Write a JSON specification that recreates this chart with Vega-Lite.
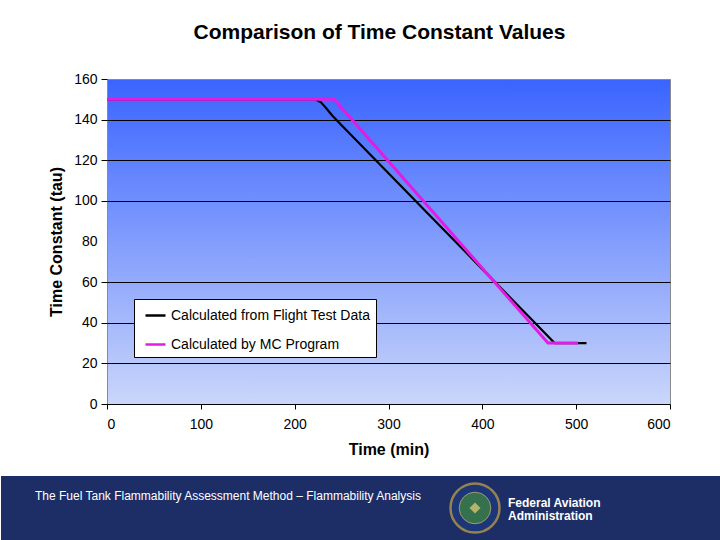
{
  "$schema": "https://vega.github.io/schema/vega-lite/v6.json",
  "padding": {"left": 0, "right": 0, "top": 21, "bottom": 0},
  "background": "white",
  "spacing": 18,
  "config": {
    "font": "Liberation Sans",
    "view": {"stroke": null}
  },
  "vconcat": [
    {
      "width": 563,
      "height": 325,
      "title": {"text": "Comparison of Time Constant Values", "fontSize": 21, "fontWeight": "bold", "font": "Liberation Sans", "color": "black", "offset": 29, "dx": -9},
      "view": {"stroke": "#8a8a8a", "strokeWidth": 1, "fill": {"expr": "{gradient: 'linear', x1: 0, y1: 0, x2: 0, y2: 1, stops: [{offset: 0, color: '#3A64FF'}, {offset: 1, color: '#CAD6FA'}]}"}},
      "resolve": {"axis": {"y": "independent"}},
      "layer": [
        {
          "data": {"values": [
            {"series": "Calculated from Flight Test Data", "time": 0, "tau": 150},
            {"series": "Calculated from Flight Test Data", "time": 222, "tau": 150},
            {"series": "Calculated from Flight Test Data", "time": 228, "tau": 148.5},
            {"series": "Calculated from Flight Test Data", "time": 233, "tau": 146},
            {"series": "Calculated from Flight Test Data", "time": 240, "tau": 142},
            {"series": "Calculated from Flight Test Data", "time": 250, "tau": 137.2},
            {"series": "Calculated from Flight Test Data", "time": 300, "tau": 113.6},
            {"series": "Calculated from Flight Test Data", "time": 350, "tau": 90},
            {"series": "Calculated from Flight Test Data", "time": 400, "tau": 66.4},
            {"series": "Calculated from Flight Test Data", "time": 450, "tau": 42.8},
            {"series": "Calculated from Flight Test Data", "time": 477, "tau": 30},
            {"series": "Calculated from Flight Test Data", "time": 511, "tau": 30}
          ]},
          "mark": {"type": "line", "strokeWidth": 2.2, "clip": true},
          "encoding": {
            "x": {"field": "time", "type": "quantitative", "scale": {"domain": [0, 600], "nice": false}, "axis": {"values": [0, 100, 200, 300, 400, 500, 600], "title": "Time (min)", "titleFontSize": 16, "titleFontWeight": "bold", "titleColor": "black", "titlePadding": 10, "labelFontSize": 14, "labelColor": "black", "labelPadding": 8, "tickSize": 5, "tickColor": "black", "domainColor": "black", "grid": false}},
            "y": {"field": "tau", "type": "quantitative", "scale": {"domain": [0, 160], "nice": false}, "axis": {"orient": "left", "values": [0, 20, 40, 60, 80, 100, 120, 140, 160], "title": "Time Constant (tau)", "titleFontSize": 16, "titleFontWeight": "bold", "titleColor": "black", "titlePadding": 9, "labelFontSize": 14, "labelColor": "black", "labelPadding": 4, "tickSize": 6, "tickColor": {"condition": {"test": "datum.value === 80", "value": "transparent"}, "value": "black"}, "domain": false, "grid": true, "gridColor": {"condition": {"test": "datum.value === 80 || datum.value === 0 || datum.value === 160", "value": "transparent"}, "value": "black"}, "gridWidth": 1, "gridOpacity": 1}},
            "color": {"field": "series", "type": "nominal", "scale": {"domain": ["Calculated from Flight Test Data", "Calculated by MC Program"], "range": ["#000000", "#E21CE2"]},
              "legend": {"title": null, "orient": "none", "legendX": 27, "legendY": 220, "fillColor": "white", "strokeColor": "black", "padding": 5, "labelFontSize": 14, "labelColor": "black", "labelFont": "Liberation Sans", "labelLimit": 400, "symbolType": "stroke", "symbolSize": 400, "symbolStrokeWidth": 2.5, "symbolOffset": 5, "rowPadding": 10, "labelOffset": 4}}
          }
        },
        {
          "data": {"values": [
            {"series": "Calculated by MC Program", "time": 0, "tau": 150},
            {"series": "Calculated by MC Program", "time": 242, "tau": 150},
            {"series": "Calculated by MC Program", "time": 470, "tau": 30},
            {"series": "Calculated by MC Program", "time": 502, "tau": 30}
          ]},
          "mark": {"type": "line", "strokeWidth": 3, "clip": true},
          "encoding": {
            "x": {"field": "time", "type": "quantitative"},
            "y": {"field": "tau", "type": "quantitative", "axis": {"orient": "left", "values": [0], "offset": 98, "title": null, "labelColor": "transparent", "labelFontSize": 14, "labelPadding": 0, "ticks": false, "domain": false, "grid": false}},
            "color": {"field": "series", "type": "nominal"}
          }
        }
      ]
    },
    {
      "width": 614,
      "height": 65,
      "view": {"fill": null, "stroke": null},
      "data": {"values": [{"panel": "footer"}]},
      "layer": [
        {
          "mark": {"type": "rect", "color": "#1D2E66", "clip": false},
          "encoding": {
            "x": {"datum": 0, "type": "quantitative", "scale": {"domain": [106, 720], "nice": false, "zero": false}, "axis": null},
            "x2": {"datum": 720},
            "y": {"datum": 0, "type": "quantitative", "scale": {"domain": [0, 65], "reverse": true, "nice": false}, "axis": null},
            "y2": {"datum": 65}
          }
        },
        {
          "mark": {"type": "text", "align": "left", "baseline": "middle", "color": "white", "fontSize": 12, "font": "Liberation Sans"},
          "encoding": {
            "x": {"datum": 34, "type": "quantitative"},
            "y": {"datum": 20, "type": "quantitative"},
            "text": {"value": "The Fuel Tank Flammability Assessment Method – Flammability Analysis"}
          }
        },
        {
          "mark": {"type": "text", "align": "left", "baseline": "middle", "color": "white", "fontSize": 12, "fontWeight": "bold", "font": "Liberation Sans", "lineHeight": 13},
          "encoding": {
            "x": {"datum": 507, "type": "quantitative"},
            "y": {"datum": 27, "type": "quantitative"},
            "text": {"value": ["Federal Aviation", "Administration"]}
          }
        },
        {
          "mark": {"type": "point", "shape": "circle", "filled": true, "fill": "#1E3A80", "stroke": "#C9A54A", "strokeWidth": 2.5},
          "encoding": {
            "x": {"datum": 474, "type": "quantitative"},
            "y": {"datum": 32, "type": "quantitative"},
            "size": {"value": 2400}
          }
        },
        {
          "mark": {"type": "point", "shape": "circle", "filled": true, "fill": "#3E8A3A", "stroke": "#D8C070", "strokeWidth": 1},
          "encoding": {
            "x": {"datum": 474, "type": "quantitative"},
            "y": {"datum": 32, "type": "quantitative"},
            "size": {"value": 1000}
          }
        },
        {
          "mark": {"type": "point", "shape": "diamond", "filled": true, "fill": "#E8D27A"},
          "encoding": {
            "x": {"datum": 474, "type": "quantitative"},
            "y": {"datum": 32, "type": "quantitative"},
            "size": {"value": 120}
          }
        }
      ]
    }
  ]
}
